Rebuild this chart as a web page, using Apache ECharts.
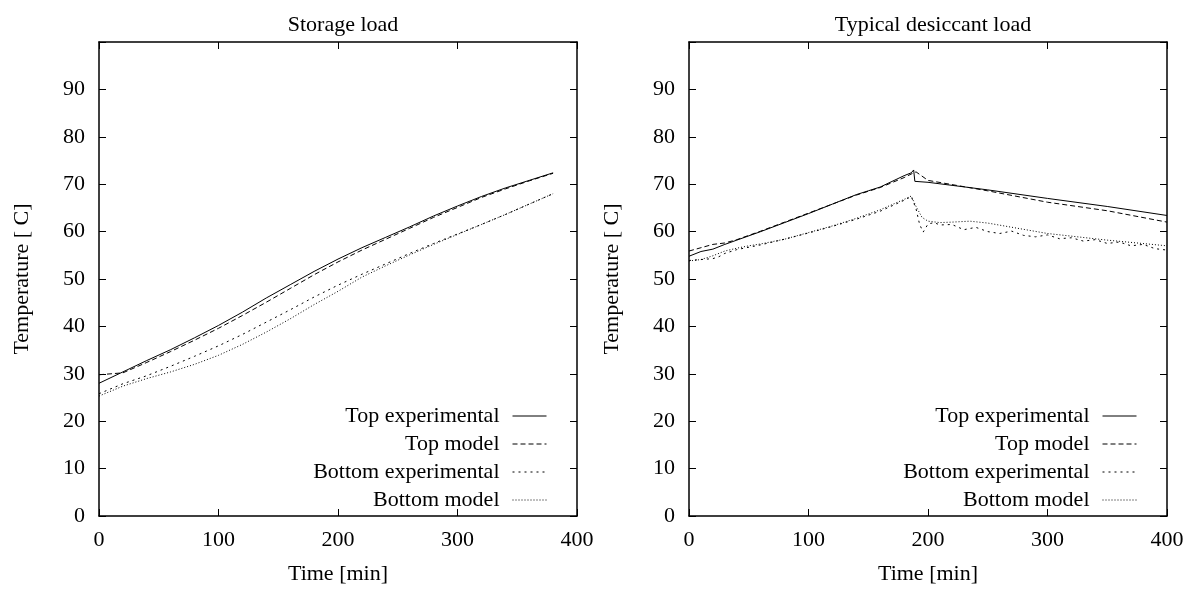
<!DOCTYPE html>
<html>
<head>
<meta charset="utf-8">
<script src="https://cdn.jsdelivr.net/npm/echarts@6/dist/echarts.min.js"></script>
<style>
  html, body { margin: 0; padding: 0; background: #fff; }
  #chart { width: 1197px; height: 590px; }
</style>
</head>
<body>
<div id="chart"></div>
<script>
// series names (same in both panels)
const seriesNames = ['Top experimental', 'Top model', 'Bottom experimental', 'Bottom model']
const panelTitles = ['Storage load', 'Typical desiccant load']

// tick values
const xTicks = [0, 100, 200, 300, 400]
const yTicks = [0, 10, 20, 30, 40, 50, 60, 70, 80, 90]

// left panel: storage load
const storageTime = [0, 20, 40, 60, 80, 100, 120, 140, 160, 180, 200, 220, 240, 260, 280, 300, 320, 340, 360, 380]
const storageTopExp = [28.0, 30.4, 32.8, 35.1, 37.6, 40.2, 43.0, 46.0, 48.8, 51.6, 54.2, 56.6, 58.8, 61.0, 63.3, 65.4, 67.4, 69.2, 70.8, 72.4]
const storageTopModel = [29.8, 30.2, 32.4, 34.7, 37.1, 39.6, 42.3, 45.1, 48.0, 50.9, 53.6, 56.1, 58.4, 60.7, 63.0, 65.1, 67.2, 69.0, 70.7, 72.3]
const storageBotExp = [25.8, 27.9, 29.6, 31.6, 33.7, 35.9, 38.3, 40.9, 43.5, 46.2, 48.7, 51.0, 53.2, 55.4, 57.5, 59.5, 61.5, 63.6, 65.8, 68.0]
const storageBotModel = [25.3, 27.4, 29.0, 30.4, 32.0, 33.9, 36.2, 38.8, 41.6, 44.6, 47.4, 50.4, 52.8, 55.1, 57.3, 59.4, 61.5, 63.6, 65.8, 68.0]

// right panel: typical desiccant load
const desTopExpTime = [0, 10, 20, 30, 40, 60, 80, 100, 120, 140, 150, 160, 180, 186, 188, 189, 200, 250, 300, 350, 400]
const desTopExp = [54.8, 55.8, 56.3, 57.3, 58.2, 60.0, 61.9, 63.8, 65.8, 67.8, 68.6, 69.4, 71.8, 72.4, 73.0, 70.6, 70.4, 68.8, 67.0, 65.3, 63.4]
const desTopModelTime = [0, 10, 20, 30, 40, 60, 80, 100, 120, 140, 150, 160, 180, 188, 190, 200, 250, 300, 350, 400]
const desTopModel = [55.9, 56.6, 57.3, 57.6, 58.3, 60.1, 62.0, 63.9, 65.8, 67.7, 68.5, 69.3, 71.4, 72.4, 72.6, 70.8, 68.6, 66.2, 64.4, 62.0]
const desBotExpTime = [0, 10, 20, 25, 30, 40, 60, 80, 100, 120, 140, 160, 180, 186, 190, 193, 196, 200, 205, 210, 220, 230, 240, 250, 260, 270, 280, 290, 300, 310, 320, 330, 340, 350, 360, 370, 380, 390, 400]
const desBotExp = [53.9, 54.1, 54.3, 54.7, 55.4, 56.2, 57.2, 58.4, 59.7, 61.1, 62.6, 64.3, 66.6, 67.4, 64.8, 61.5, 59.9, 61.6, 61.9, 61.4, 61.5, 60.4, 60.9, 60.0, 59.6, 60.1, 59.2, 58.9, 59.3, 58.5, 58.7, 58.0, 58.3, 57.5, 57.8, 57.0, 57.3, 56.4, 56.1]
const desBotModelTime = [0, 10, 20, 30, 40, 50, 60, 80, 100, 120, 140, 160, 180, 186, 190, 195, 200, 210, 220, 235, 250, 300, 350, 400]
const desBotModel = [53.8, 54.1, 54.9, 55.9, 56.5, 57.0, 57.4, 58.4, 59.8, 61.2, 62.8, 64.6, 66.8, 67.5, 65.3, 63.0, 62.2, 61.9, 62.0, 62.2, 61.8, 59.6, 58.2, 57.0]

const FONT = 'Liberation Serif'
const FS = 22

function zip(xs, ys) {
  return xs.map((x, i) => [x, ys[i]])
}

// line styles per series index: solid, dashed, short dash, dots
const lineTypes = ['solid', [5, 3], [2, 4], [1, 2]]

const grids = [
  { left: 99, top: 42, width: 478, height: 477 },
  { left: 689, top: 42, width: 478, height: 477 },
]

function xAxisPair(gi) {
  const base = {
    gridIndex: gi,
    type: 'value',
    min: xTicks[0],
    max: xTicks[xTicks.length - 1],
    interval: 100,
    axisLine: { show: true, onZero: false, lineStyle: { color: '#000', width: 1.5 } },
    axisTick: { show: true, inside: true, length: 7, lineStyle: { color: '#000', width: 1 } },
    splitLine: { show: false },
  }
  return [
    Object.assign({}, base, {
      position: 'bottom',
      name: 'Time [min]',
      nameLocation: 'middle',
      nameGap: 47,
      nameTextStyle: { fontFamily: FONT, fontSize: FS, color: '#000' },
      axisLabel: { show: true, margin: 13, fontFamily: FONT, fontSize: FS, color: '#000' },
    }),
    Object.assign({}, base, { position: 'top', axisLabel: { show: false } }),
  ]
}

function yAxisPair(gi) {
  const base = {
    gridIndex: gi,
    type: 'value',
    min: 0,
    max: 100,
    interval: 10,
    axisLine: { show: true, onZero: false, lineStyle: { color: '#000', width: 1.5 } },
    axisTick: { show: true, inside: true, length: 7, lineStyle: { color: '#000', width: 1 } },
    splitLine: { show: false },
  }
  return [
    Object.assign({}, base, {
      position: 'left',
      name: 'Temperature [ C]',
      nameLocation: 'middle',
      nameGap: 66,
      nameTextStyle: { fontFamily: FONT, fontSize: FS, color: '#000' },
      axisLabel: {
        show: true, margin: 14, fontFamily: FONT, fontSize: FS, color: '#000',
        formatter: v => (yTicks.indexOf(v) >= 0 ? String(v) : ''),
      },
    }),
    Object.assign({}, base, { position: 'right', axisLabel: { show: false } }),
  ]
}

const panelData = [
  [
    zip(storageTime, storageTopExp),
    zip(storageTime, storageTopModel),
    zip(storageTime, storageBotExp),
    zip(storageTime, storageBotModel),
  ],
  [
    zip(desTopExpTime, desTopExp),
    zip(desTopModelTime, desTopModel),
    zip(desBotExpTime, desBotExp),
    zip(desBotModelTime, desBotModel),
  ],
]

const series = []
panelData.forEach((sets, gi) => {
  sets.forEach((data, si) => {
    series.push({
      name: seriesNames[si],
      type: 'line',
      xAxisIndex: gi * 2,
      yAxisIndex: gi * 2,
      data: data,
      symbol: 'none',
      animation: false,
      lineStyle: { color: '#000', width: 1, type: lineTypes[si] },
      itemStyle: { color: '#000' },
    })
  })
})

// gnuplot style key: right aligned text, line sample on the right
function legendFor(gi) {
  const g = grids[gi]
  return {
    data: seriesNames,
    orient: 'vertical',
    align: 'right',
    right: 1197 - (g.left + g.width - 25),
    top: 397,
    itemWidth: 34,
    itemHeight: 14,
    itemGap: 0,
    selectedMode: false,
    itemStyle: { opacity: 0 },
    lineStyle: { width: 1 },
    textStyle: { fontFamily: FONT, fontSize: FS, color: '#000', lineHeight: 28, padding: [0, 8, 0, 0] },
  }
}

const option = {
  backgroundColor: '#fff',
  animation: false,
  title: panelTitles.map((t, gi) => ({
    text: t,
    left: grids[gi].left + grids[gi].width / 2,
    top: 9,
    textAlign: 'center',
    textStyle: { fontFamily: FONT, fontSize: FS, fontWeight: 'normal', color: '#000' },
  })),
  grid: grids,
  xAxis: [...xAxisPair(0), ...xAxisPair(1)],
  yAxis: [...yAxisPair(0), ...yAxisPair(1)],
  legend: [legendFor(0), legendFor(1)],
  series: series,
}

const chart = echarts.init(document.getElementById('chart'), null, { renderer: 'canvas' })
chart.setOption(option)
</script>
</body>
</html>
